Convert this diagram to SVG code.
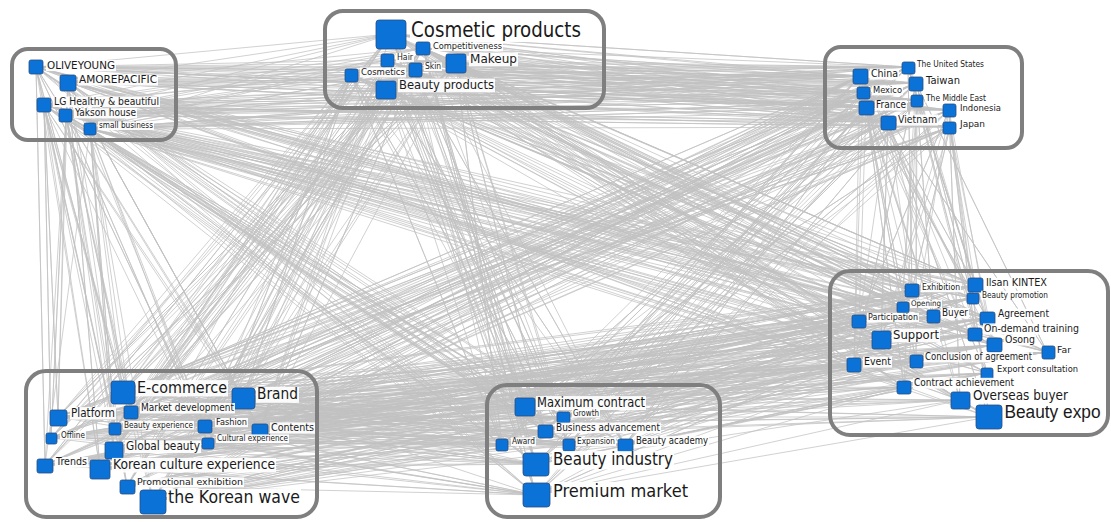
<svg xmlns="http://www.w3.org/2000/svg" width="1111" height="522" viewBox="0 0 1111 522">
<style>
.e{fill:none;stroke:#c2c2c2;stroke-width:.75;stroke-linejoin:round}
.c{fill:none;stroke:#7f7f7f;stroke-width:4}
.n{fill:#0b72d8;stroke:#2a4d80;stroke-width:.8}
.b{fill:#fff;fill-opacity:.92}
text{font-family:"DejaVu Sans",sans-serif;fill:#1a1a1a}
text.nar{font-family:"Liberation Sans",Arial,sans-serif}
</style>
<rect width="1111" height="522" fill="#fff"/>
<g id="connectors">
<polyline class="e" points="36,67 391,34 68,82 423,48 44,105 388,60 66,115 415,70 90,129 456,63 36,67 351,75 68,82 386,89 44,105 391,34 66,115 423,48 90,129 388,60 36,67 415,70 68,82 456,63 44,105 351,75 66,115 386,89 90,129 391,34"/>
<polyline class="e" points="36,67 908,67 68,82 860,76 44,105 916,83 66,115 863,92 90,129 917,100 36,67 866,107 68,82 949,110 44,105 888,122 66,115 950,127 90,129 908,67 36,67 860,76 68,82 916,83 44,105 863,92 66,115 917,100 90,129 866,107 36,67 949,110 68,82 888,122 44,105 950,127 66,115 908,67 90,129 860,76 36,67 916,83 68,82 863,92 44,105 917,100 66,115 866,107 90,129 949,110 36,67 888,122 68,82 950,127 44,105 908,67 66,115 860,76 90,129 916,83"/>
<polyline class="e" points="36,67 912,290 68,82 975,285 44,105 972,298 66,115 902,307 90,129 933,316 36,67 987,318 68,82 859,321 44,105 881,340 66,115 975,334 90,129 994,345 36,67 1047,352 68,82 854,364 44,105 916,361 66,115 987,373 90,129 904,387 36,67 960,400 68,82 989,417 44,105 912,290 66,115 975,285 90,129 972,298 36,67 902,307 68,82 933,316 44,105 987,318 66,115 859,321 90,129 881,340 36,67 975,334 68,82 994,345 44,105 1047,352 66,115 854,364 90,129 916,361"/>
<polyline class="e" points="36,67 123,392 68,82 243,398 44,105 58,417 66,115 131,412 90,129 115,428 36,67 205,426 68,82 260,429 44,105 51,438 66,115 208,443 90,129 114,450 36,67 45,465 68,82 100,469 44,105 127,486 66,115 153,501 90,129 123,392 36,67 243,398 68,82 58,417 44,105 131,412 66,115 115,428 90,129 205,426 36,67 260,429 68,82 51,438 44,105 208,443 66,115 114,450 90,129 45,465 36,67 100,469 68,82 127,486 44,105 153,501"/>
<polyline class="e" points="36,67 525,406 68,82 563,417 44,105 545,431 66,115 502,445 90,129 569,444 36,67 625,445 68,82 536,464 44,105 536,495 66,115 525,406 90,129 563,417 36,67 545,431 68,82 502,445 44,105 569,444 66,115 625,445 90,129 536,464 36,67 536,495 68,82 525,406 44,105 563,417 66,115 545,431 90,129 502,445"/>
<polyline class="e" points="391,34 908,67 423,48 860,76 388,60 916,83 415,70 863,92 456,63 917,100 351,75 866,107 386,89 949,110 391,34 888,122 423,48 950,127 388,60 908,67 415,70 860,76 456,63 916,83 351,75 863,92 386,89 917,100 391,34 866,107 423,48 949,110 388,60 888,122 415,70 950,127 456,63 908,67 351,75 860,76 386,89 916,83 391,34 863,92 423,48 917,100 388,60 866,107 415,70 949,110 456,63 888,122 351,75 950,127 386,89 908,67 391,34 860,76 423,48 916,83 388,60 863,92 415,70 917,100"/>
<polyline class="e" points="391,34 912,290 423,48 975,285 388,60 972,298 415,70 902,307 456,63 933,316 351,75 987,318 386,89 859,321 391,34 881,340 423,48 975,334 388,60 994,345 415,70 1047,352 456,63 854,364 351,75 916,361 386,89 987,373 391,34 904,387 423,48 960,400 388,60 989,417 415,70 912,290 456,63 975,285 351,75 972,298 386,89 902,307 391,34 933,316 423,48 987,318 388,60 859,321 415,70 881,340 456,63 975,334 351,75 994,345 386,89 1047,352 391,34 854,364 423,48 916,361 388,60 987,373 415,70 904,387 456,63 960,400 351,75 989,417 386,89 912,290 391,34 975,285 423,48 972,298 388,60 902,307 415,70 933,316 456,63 987,318"/>
<polyline class="e" points="391,34 123,392 423,48 243,398 388,60 58,417 415,70 131,412 456,63 115,428 351,75 205,426 386,89 260,429 391,34 51,438 423,48 208,443 388,60 114,450 415,70 45,465 456,63 100,469 351,75 127,486 386,89 153,501 415,70 123,392 456,63 243,398 351,75 58,417 386,89 131,412 391,34 115,428 423,48 205,426 388,60 260,429 415,70 51,438 456,63 208,443 351,75 114,450 386,89 45,465 391,34 100,469 423,48 127,486 388,60 153,501"/>
<polyline class="e" points="391,34 131,412 423,48 115,428 388,60 205,426 415,70 260,429 456,63 51,438 351,75 208,443 386,89 114,450 391,34 45,465 423,48 100,469 388,60 127,486 415,70 153,501 456,63 123,392 351,75 243,398 386,89 58,417"/>
<polyline class="e" points="391,34 525,406 423,48 563,417 388,60 545,431 415,70 502,445 456,63 569,444 351,75 625,445 386,89 536,464 391,34 536,495 423,48 525,406 388,60 563,417 415,70 545,431 456,63 502,445 351,75 569,444 386,89 625,445 391,34 536,464 423,48 536,495 388,60 525,406 415,70 563,417 456,63 545,431 351,75 502,445 386,89 569,444 391,34 625,445 423,48 536,464 388,60 536,495"/>
<polyline class="e" points="908,67 912,290 860,76 975,285 916,83 972,298 863,92 902,307 917,100 933,316 866,107 987,318 949,110 859,321 888,122 881,340 950,127 975,334 908,67 994,345 860,76 1047,352 916,83 854,364 863,92 916,361 917,100 987,373 866,107 904,387 949,110 960,400 888,122 989,417 950,127 912,290 908,67 975,285 860,76 972,298 916,83 902,307 863,92 933,316 917,100 987,318 866,107 859,321 949,110 881,340 888,122 975,334 950,127 994,345 908,67 1047,352 860,76 854,364 916,83 916,361 863,92 987,373 917,100 904,387 866,107 960,400 949,110 989,417 888,122 912,290 950,127 975,285"/>
<polyline class="e" points="908,67 123,392 860,76 243,398 916,83 58,417 863,92 131,412 917,100 115,428 866,107 205,426 949,110 260,429 888,122 51,438 950,127 208,443 908,67 114,450 860,76 45,465 916,83 100,469 863,92 127,486 917,100 153,501 866,107 123,392 949,110 243,398 888,122 58,417 950,127 131,412 908,67 115,428 860,76 205,426 916,83 260,429 863,92 51,438 917,100 208,443 866,107 114,450 949,110 45,465 888,122 100,469 950,127 127,486 908,67 153,501 860,76 123,392 916,83 243,398 863,92 58,417 917,100 131,412 866,107 115,428 949,110 205,426 888,122 260,429 950,127 51,438 908,67 208,443 860,76 114,450 916,83 45,465 863,92 100,469"/>
<polyline class="e" points="908,67 525,406 860,76 563,417 916,83 545,431 863,92 502,445 917,100 569,444 866,107 625,445 949,110 536,464 888,122 536,495 950,127 525,406 908,67 563,417 860,76 545,431 916,83 502,445 863,92 569,444 917,100 625,445 866,107 536,464 949,110 536,495 888,122 525,406 950,127 563,417 908,67 545,431 860,76 502,445 916,83 569,444 863,92 625,445 917,100 536,464 866,107 536,495"/>
<polyline class="e" points="912,290 123,392 975,285 243,398 972,298 58,417 902,307 131,412 933,316 115,428 987,318 205,426 859,321 260,429 881,340 51,438 975,334 208,443 994,345 114,450 1047,352 45,465 854,364 100,469 916,361 127,486 987,373 153,501 904,387 123,392 960,400 243,398 989,417 58,417 912,290 131,412 975,285 115,428 972,298 205,426 902,307 260,429 933,316 51,438 987,318 208,443 859,321 114,450 881,340 45,465 975,334 100,469 994,345 127,486 1047,352 153,501 854,364 123,392 916,361 243,398 987,373 58,417 904,387 131,412 960,400 115,428 989,417 205,426 912,290 260,429 975,285 51,438 972,298 208,443 902,307 114,450 933,316 45,465 987,318 100,469 859,321 127,486 881,340 153,501 975,334 123,392 994,345 243,398 1047,352 58,417 854,364 131,412 916,361 115,428 987,373 205,426"/>
<polyline class="e" points="912,290 51,438 975,285 208,443 972,298 114,450 902,307 45,465 933,316 100,469 987,318 127,486 859,321 153,501 881,340 123,392 975,334 243,398 994,345 58,417 1047,352 131,412 854,364 115,428 916,361 205,426 987,373 260,429 904,387 51,438 960,400 208,443 989,417 114,450 912,290 45,465 975,285 100,469 972,298 127,486 902,307 153,501 933,316 123,392 987,318 243,398 859,321 58,417 881,340 131,412 975,334 115,428 994,345 205,426 1047,352 260,429 854,364 51,438 916,361 208,443"/>
<polyline class="e" points="912,290 525,406 975,285 563,417 972,298 545,431 902,307 502,445 933,316 569,444 987,318 625,445 859,321 536,464 881,340 536,495 975,334 525,406 994,345 563,417 1047,352 545,431 854,364 502,445 916,361 569,444 987,373 625,445 904,387 536,464 960,400 536,495 989,417 525,406 912,290 563,417 975,285 545,431 972,298 502,445 902,307 569,444 933,316 625,445 987,318 536,464 859,321 536,495 881,340 525,406 975,334 563,417 994,345 545,431 1047,352 502,445 854,364 569,444 916,361 625,445 987,373 536,464 904,387 536,495"/>
<polyline class="e" points="123,392 525,406 243,398 563,417 58,417 545,431 131,412 502,445 115,428 569,444 205,426 625,445 260,429 536,464 51,438 536,495 208,443 525,406 114,450 563,417 45,465 545,431 100,469 502,445 127,486 569,444 153,501 625,445 123,392 536,464 243,398 536,495 58,417 525,406 131,412 563,417 115,428 545,431 205,426 502,445 260,429 569,444 51,438 625,445 208,443 536,464 114,450 536,495 45,465 525,406 100,469 563,417 127,486 545,431 153,501 502,445 123,392 569,444 243,398 625,445 58,417 536,464 131,412 536,495"/>
<polyline class="e" points="123,392 569,444 243,398 625,445 58,417 536,464 131,412 536,495 115,428 525,406 205,426 563,417 260,429 545,431 51,438 502,445 208,443 569,444 114,450 625,445 45,465 536,464 100,469 536,495 127,486 525,406 153,501 563,417 123,392 545,431 243,398 502,445"/>
</g>
<g id="clusters">
<rect id="cl-companies" class="c" x="12" y="49" width="164" height="91" rx="16"/>
<rect id="cl-products" class="c" x="325" y="11" width="279" height="97" rx="18"/>
<rect id="cl-countries" class="c" x="825" y="47" width="197" height="101" rx="16"/>
<rect id="cl-expo" class="c" x="830" y="271" width="278" height="164" rx="20"/>
<rect id="cl-wave" class="c" x="26" y="371" width="291" height="146" rx="20"/>
<rect id="cl-market" class="c" x="487" y="385" width="233" height="132" rx="20"/>
</g>
<g id="n-oliveyoung"><rect class="b" x="46" y="60.1" width="70" height="11"/><rect class="n" x="29" y="60" width="14" height="14" rx="2"/><text x="47" y="68.5" font-size="10.5" textLength="68" lengthAdjust="spacingAndGlyphs">OLIVEYOUNG</text></g>
<g id="n-amorepacific"><rect class="b" x="78" y="74.8" width="80" height="10.7"/><rect class="n" x="60" y="75" width="16" height="16" rx="2"/><text x="79" y="83" font-size="10.2" textLength="78" lengthAdjust="spacingAndGlyphs">AMOREPACIFIC</text></g>
<g id="n-lg"><rect class="b" x="53" y="96.5" width="107" height="10.5"/><rect class="n" x="37" y="98" width="14" height="14" rx="2"/><text x="54" y="104.5" font-size="10" textLength="105" lengthAdjust="spacingAndGlyphs">LG Healthy &amp; beautiful</text></g>
<g id="n-yakson"><rect class="b" x="74" y="108.3" width="63" height="10.1"/><rect class="n" x="59" y="109" width="13" height="13" rx="2"/><text x="75" y="116" font-size="9.6" textLength="61" lengthAdjust="spacingAndGlyphs">Yakson house</text></g>
<g id="n-smallbusiness"><rect class="b" x="98" y="121.4" width="56" height="8.6"/><rect class="n" x="84" y="123" width="12" height="12" rx="2"/><text x="99" y="128" font-size="8.2" textLength="54" lengthAdjust="spacingAndGlyphs">small business</text></g>
<g id="n-cosmeticproducts"><rect class="b" x="410" y="20.6" width="172" height="21.5"/><rect class="n" x="376" y="20" width="30" height="29" rx="3"/><text x="411" y="37" font-size="20.5" textLength="170" lengthAdjust="spacingAndGlyphs">Cosmetic products</text></g>
<g id="n-competitiveness"><rect class="b" x="432" y="42.3" width="71" height="8.8"/><rect class="n" x="416" y="42" width="14" height="13" rx="2"/><text x="433" y="49" font-size="9" textLength="69" lengthAdjust="spacingAndGlyphs">Competitiveness</text></g>
<g id="n-hair"><rect class="b" x="396" y="53" width="18" height="9.1"/><rect class="n" x="381" y="54" width="13" height="13" rx="2"/><text x="397" y="60" font-size="8.7" textLength="16" lengthAdjust="spacingAndGlyphs">Hair</text></g>
<g id="n-skin"><rect class="b" x="424" y="62.4" width="18" height="8.6"/><rect class="n" x="409" y="63" width="13" height="14" rx="2"/><text x="425" y="69" font-size="8.2" textLength="16" lengthAdjust="spacingAndGlyphs">Skin</text></g>
<g id="n-makeup"><rect class="b" x="469" y="52.6" width="49" height="13.7"/><rect class="n" x="446" y="54" width="20" height="19" rx="2"/><text x="470" y="63" font-size="13" textLength="47" lengthAdjust="spacingAndGlyphs">Makeup</text></g>
<g id="n-cosmetics"><rect class="b" x="360" y="67.5" width="46" height="9.9"/><rect class="n" x="345" y="69" width="13" height="13" rx="2"/><text x="361" y="75" font-size="9.4" textLength="44" lengthAdjust="spacingAndGlyphs">Cosmetics</text></g>
<g id="n-beautyproducts"><rect class="b" x="398" y="78.6" width="97" height="13.7"/><rect class="n" x="376" y="81" width="20" height="18" rx="2"/><text x="399" y="89" font-size="13" textLength="95" lengthAdjust="spacingAndGlyphs">Beauty products</text></g>
<g id="n-us"><rect class="b" x="916" y="60.3" width="69" height="8.8"/><rect class="n" x="902" y="62" width="13" height="12" rx="2"/><text x="917" y="67" font-size="8.4" textLength="67" lengthAdjust="spacingAndGlyphs">The United States</text></g>
<g id="n-china"><rect class="b" x="870" y="68.6" width="29" height="11"/><rect class="n" x="853" y="69" width="15" height="15" rx="2"/><text x="871" y="77" font-size="10.5" textLength="27" lengthAdjust="spacingAndGlyphs">China</text></g>
<g id="n-taiwan"><rect class="b" x="925" y="75.6" width="36" height="11"/><rect class="n" x="909" y="77" width="14" height="14" rx="2"/><text x="926" y="84" font-size="10.5" textLength="34" lengthAdjust="spacingAndGlyphs">Taiwan</text></g>
<g id="n-mexico"><rect class="b" x="872" y="85.6" width="31" height="9.7"/><rect class="n" x="857" y="87" width="13" height="12" rx="2"/><text x="873" y="93" font-size="9.2" textLength="29" lengthAdjust="spacingAndGlyphs">Mexico</text></g>
<g id="n-middleeast"><rect class="b" x="925" y="93.9" width="62" height="8.7"/><rect class="n" x="911" y="95" width="12" height="12" rx="2"/><text x="926" y="100.5" font-size="8.3" textLength="60" lengthAdjust="spacingAndGlyphs">The Middle East</text></g>
<g id="n-france"><rect class="b" x="875" y="100.2" width="32" height="10.3"/><rect class="n" x="859" y="101" width="15" height="14" rx="2"/><text x="876" y="108" font-size="9.8" textLength="30" lengthAdjust="spacingAndGlyphs">France</text></g>
<g id="n-indonesia"><rect class="b" x="959" y="103.4" width="43" height="10"/><rect class="n" x="943" y="104" width="13" height="13" rx="2"/><text x="960" y="111" font-size="9.5" textLength="41" lengthAdjust="spacingAndGlyphs">Indonesia</text></g>
<g id="n-vietnam"><rect class="b" x="897" y="114.5" width="41" height="11.1"/><rect class="n" x="881" y="116" width="15" height="14" rx="2"/><text x="898" y="123" font-size="10.6" textLength="39" lengthAdjust="spacingAndGlyphs">Vietnam</text></g>
<g id="n-japan"><rect class="b" x="959" y="119.6" width="27" height="9.8"/><rect class="n" x="943" y="122" width="13" height="12" rx="2"/><text x="960" y="127" font-size="9.3" textLength="25" lengthAdjust="spacingAndGlyphs">Japan</text></g>
<g id="n-exhibition"><rect class="b" x="921" y="283" width="40" height="9.2"/><rect class="n" x="905" y="284" width="14" height="13" rx="2"/><text x="922" y="290" font-size="8.8" textLength="38" lengthAdjust="spacingAndGlyphs">Exhibition</text></g>
<g id="n-kintex"><rect class="b" x="985" y="277.8" width="63" height="10.7"/><rect class="n" x="968" y="278" width="15" height="14" rx="2"/><text x="986" y="286" font-size="10.2" textLength="61" lengthAdjust="spacingAndGlyphs">Ilsan KINTEX</text></g>
<g id="n-beautypromotion"><rect class="b" x="981" y="290.8" width="68" height="8.8"/><rect class="n" x="967" y="293" width="12" height="11" rx="2"/><text x="982" y="297.5" font-size="8.4" textLength="66" lengthAdjust="spacingAndGlyphs">Beauty promotion</text></g>
<g id="n-opening"><rect class="b" x="910" y="299.7" width="32" height="8.3"/><rect class="n" x="897" y="302" width="12" height="11" rx="2"/><text x="911" y="306" font-size="7.9" textLength="30" lengthAdjust="spacingAndGlyphs">Opening</text></g>
<g id="n-buyer"><rect class="b" x="941" y="308" width="28" height="10.5"/><rect class="n" x="927" y="310" width="13" height="13" rx="2"/><text x="942" y="316" font-size="10" textLength="26" lengthAdjust="spacingAndGlyphs">Buyer</text></g>
<g id="n-agreement"><rect class="b" x="997" y="308.7" width="53" height="10.9"/><rect class="n" x="980" y="312" width="15" height="13" rx="2"/><text x="998" y="317" font-size="10.4" textLength="51" lengthAdjust="spacingAndGlyphs">Agreement</text></g>
<g id="n-participation"><rect class="b" x="867" y="312.8" width="52" height="9.5"/><rect class="n" x="852" y="315" width="14" height="13" rx="2"/><text x="868" y="320" font-size="9" textLength="50" lengthAdjust="spacingAndGlyphs">Participation</text></g>
<g id="n-support"><rect class="b" x="892" y="328.6" width="48" height="13.7"/><rect class="n" x="872" y="331" width="19" height="18" rx="2"/><text x="893" y="339" font-size="13" textLength="46" lengthAdjust="spacingAndGlyphs">Support</text></g>
<g id="n-ondemand"><rect class="b" x="983" y="323.4" width="97" height="11.2"/><rect class="n" x="968" y="328" width="14" height="13" rx="2"/><text x="984" y="332" font-size="10.7" textLength="95" lengthAdjust="spacingAndGlyphs">On-demand training</text></g>
<g id="n-osong"><rect class="b" x="1004" y="334.8" width="32" height="10.7"/><rect class="n" x="987" y="338" width="15" height="14" rx="2"/><text x="1005" y="343" font-size="10.2" textLength="30" lengthAdjust="spacingAndGlyphs">Osong</text></g>
<g id="n-far"><rect class="b" x="1056" y="345.1" width="16" height="9.8"/><rect class="n" x="1042" y="346" width="13" height="13" rx="2"/><text x="1057" y="352.5" font-size="9.3" textLength="14" lengthAdjust="spacingAndGlyphs">Far</text></g>
<g id="n-event"><rect class="b" x="863" y="356.7" width="29" height="10.9"/><rect class="n" x="847" y="358" width="14" height="14" rx="2"/><text x="864" y="365" font-size="10.4" textLength="27" lengthAdjust="spacingAndGlyphs">Event</text></g>
<g id="n-conclusion"><rect class="b" x="924" y="352.3" width="109" height="10.1"/><rect class="n" x="910" y="355" width="13" height="13" rx="2"/><text x="925" y="360" font-size="9.6" textLength="107" lengthAdjust="spacingAndGlyphs">Conclusion of agreement</text></g>
<g id="n-export"><rect class="b" x="996" y="364.5" width="83" height="9.9"/><rect class="n" x="981" y="368" width="12" height="12" rx="2"/><text x="997" y="372" font-size="9.4" textLength="81" lengthAdjust="spacingAndGlyphs">Export consultation</text></g>
<g id="n-contract"><rect class="b" x="913" y="377.8" width="102" height="10.8"/><rect class="n" x="897" y="381" width="14" height="13" rx="2"/><text x="914" y="386" font-size="10.3" textLength="100" lengthAdjust="spacingAndGlyphs">Contract achievement</text></g>
<g id="n-overseas"><rect class="b" x="972" y="389.2" width="97" height="14.2"/><rect class="n" x="951" y="392" width="19" height="17" rx="2"/><text x="973" y="400" font-size="13.5" textLength="95" lengthAdjust="spacingAndGlyphs">Overseas buyer</text></g>
<g id="n-beautyexpo"><rect class="b" x="1003.5" y="403.4" width="99" height="19.2"/><rect class="n" x="976" y="405" width="26" height="24" rx="3"/><text class="nar" x="1004.5" y="418" font-size="17.6" textLength="96" lengthAdjust="spacingAndGlyphs">Beauty expo</text></g>
<g id="n-ecommerce"><rect class="b" x="136" y="380.1" width="92" height="16.3"/><rect class="n" x="111" y="381" width="24" height="23" rx="3"/><text x="137" y="392.5" font-size="15.5" textLength="90" lengthAdjust="spacingAndGlyphs">E-commerce</text></g>
<g id="n-brand"><rect class="b" x="256" y="386.8" width="43" height="16"/><rect class="n" x="232" y="388" width="23" height="21" rx="3"/><text x="257" y="399" font-size="15.2" textLength="41" lengthAdjust="spacingAndGlyphs">Brand</text></g>
<g id="n-platform"><rect class="b" x="70" y="407.1" width="46" height="12.4"/><rect class="n" x="50" y="410" width="17" height="16" rx="2"/><text x="71" y="416.5" font-size="11.8" textLength="44" lengthAdjust="spacingAndGlyphs">Platform</text></g>
<g id="n-marketdev"><rect class="b" x="140" y="403" width="95" height="10.5"/><rect class="n" x="124" y="406" width="14" height="13" rx="2"/><text x="141" y="411" font-size="10" textLength="93" lengthAdjust="spacingAndGlyphs">Market development</text></g>
<g id="n-beautyexp"><rect class="b" x="123" y="420.9" width="71" height="8.7"/><rect class="n" x="109" y="423" width="12" height="12" rx="2"/><text x="124" y="427.5" font-size="8.3" textLength="69" lengthAdjust="spacingAndGlyphs">Beauty experience</text></g>
<g id="n-fashion"><rect class="b" x="215" y="418" width="33" height="9.2"/><rect class="n" x="198" y="420" width="14" height="13" rx="2"/><text x="216" y="425" font-size="8.8" textLength="31" lengthAdjust="spacingAndGlyphs">Fashion</text></g>
<g id="n-contents"><rect class="b" x="270" y="422.4" width="45" height="11.2"/><rect class="n" x="252" y="424" width="16" height="12" rx="2"/><text x="271" y="431" font-size="10.7" textLength="43" lengthAdjust="spacingAndGlyphs">Contents</text></g>
<g id="n-offline"><rect class="b" x="60" y="430.9" width="26" height="8.6"/><rect class="n" x="46" y="433" width="11" height="11" rx="2"/><text x="61" y="437.5" font-size="8.2" textLength="24" lengthAdjust="spacingAndGlyphs">Offline</text></g>
<g id="n-culturalexp"><rect class="b" x="216" y="434.4" width="73" height="8.6"/><rect class="n" x="202" y="438" width="12" height="11" rx="2"/><text x="217" y="441" font-size="8.2" textLength="71" lengthAdjust="spacingAndGlyphs">Cultural experience</text></g>
<g id="n-globalbeauty"><rect class="b" x="125" y="440.4" width="76" height="12.6"/><rect class="n" x="105" y="442" width="18" height="17" rx="2"/><text x="126" y="450" font-size="12" textLength="74" lengthAdjust="spacingAndGlyphs">Global beauty</text></g>
<g id="n-trends"><rect class="b" x="55" y="457" width="33" height="10.5"/><rect class="n" x="37" y="459" width="16" height="14" rx="2"/><text x="56" y="465" font-size="10" textLength="31" lengthAdjust="spacingAndGlyphs">Trends</text></g>
<g id="n-koreanculture"><rect class="b" x="112" y="457.9" width="164" height="14.6"/><rect class="n" x="90" y="460" width="20" height="19" rx="2"/><text x="113" y="469" font-size="13.9" textLength="162" lengthAdjust="spacingAndGlyphs">Korean culture experience</text></g>
<g id="n-promo"><rect class="b" x="136" y="477.4" width="108" height="10"/><rect class="n" x="120" y="480" width="15" height="14" rx="2"/><text x="137" y="485" font-size="9.5" textLength="106" lengthAdjust="spacingAndGlyphs">Promotional exhibition</text></g>
<g id="n-koreanwave"><rect class="b" x="167" y="488.9" width="134" height="18.5"/><rect class="n" x="140" y="490" width="26" height="24" rx="3"/><text x="168" y="503" font-size="17.6" textLength="132" lengthAdjust="spacingAndGlyphs">the Korean wave</text></g>
<g id="n-maxcontract"><rect class="b" x="536" y="396.1" width="110" height="13.9"/><rect class="n" x="515" y="398" width="20" height="18" rx="2"/><text x="537" y="406.7" font-size="13.2" textLength="108" lengthAdjust="spacingAndGlyphs">Maximum contract</text></g>
<g id="n-growth"><rect class="b" x="572" y="409" width="28" height="8.5"/><rect class="n" x="557" y="412" width="13" height="11" rx="2"/><text x="573" y="415.5" font-size="8.1" textLength="26" lengthAdjust="spacingAndGlyphs">Growth</text></g>
<g id="n-bizadv"><rect class="b" x="555" y="422.6" width="106" height="10.6"/><rect class="n" x="538" y="425" width="15" height="13" rx="2"/><text x="556" y="430.7" font-size="10.1" textLength="104" lengthAdjust="spacingAndGlyphs">Business advancement</text></g>
<g id="n-award"><rect class="b" x="511" y="437.5" width="25" height="8.5"/><rect class="n" x="496" y="439" width="12" height="12" rx="2"/><text x="512" y="444" font-size="8.1" textLength="23" lengthAdjust="spacingAndGlyphs">Award</text></g>
<g id="n-expansion"><rect class="b" x="576" y="437.5" width="40" height="8.5"/><rect class="n" x="563" y="439" width="12" height="12" rx="2"/><text x="577" y="444" font-size="8.1" textLength="38" lengthAdjust="spacingAndGlyphs">Expansion</text></g>
<g id="n-academy"><rect class="b" x="635" y="436.2" width="74" height="10.2"/><rect class="n" x="618" y="439" width="15" height="13" rx="2"/><text x="636" y="444" font-size="9.7" textLength="72" lengthAdjust="spacingAndGlyphs">Beauty academy</text></g>
<g id="n-beautyindustry"><rect class="b" x="552" y="451.1" width="122" height="18.3"/><rect class="n" x="523" y="453" width="26" height="23" rx="3"/><text x="553" y="465" font-size="17.4" textLength="120" lengthAdjust="spacingAndGlyphs">Beauty industry</text></g>
<g id="n-premium"><rect class="b" x="552" y="482" width="137" height="19.3"/><rect class="n" x="523" y="483" width="27" height="24" rx="3"/><text x="553" y="496.7" font-size="18.4" textLength="135" lengthAdjust="spacingAndGlyphs">Premium market</text></g>
</svg>
